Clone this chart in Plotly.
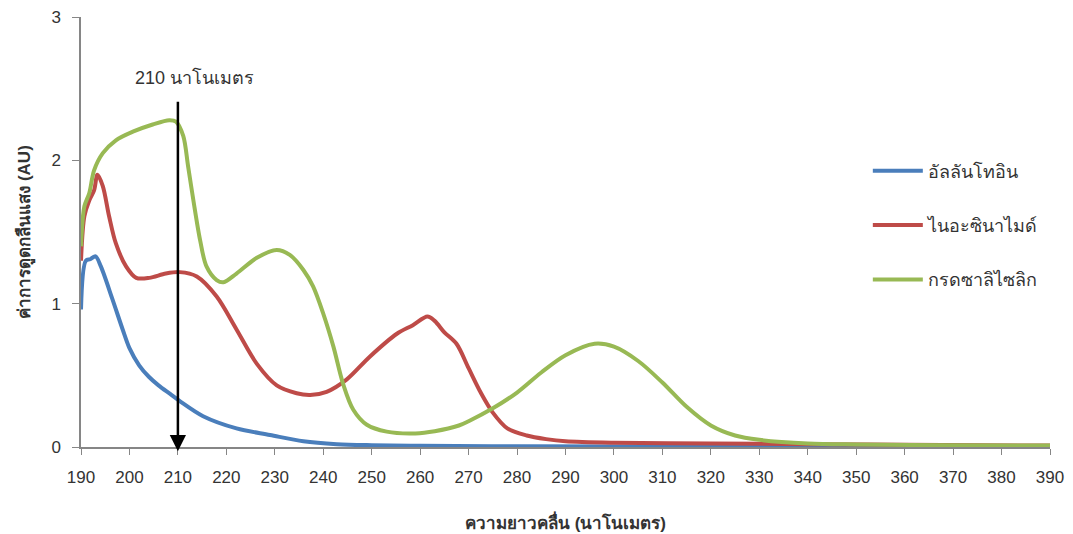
import plotly.graph_objects as go

# Allantoin (blue)
blue_x = [190, 191, 191.9, 193, 194.1, 196.5, 198.6, 200, 202, 204, 206, 208.4, 210.4, 215.2, 222.1, 229, 235.9, 242.8, 250, 260, 280, 320, 390]
blue_y = [0.96, 1.30, 1.31, 1.33, 1.26, 1.03, 0.82, 0.69, 0.57, 0.49, 0.43, 0.37, 0.32, 0.215, 0.13, 0.084, 0.04, 0.02, 0.013, 0.009, 0.005, 0.004, 0.003]

# Niacinamide (red)
red_x = [190, 190.7, 191.7, 192.7, 193.4, 194.5, 195.8, 197.2, 199.3, 201.4, 204.1, 207.5, 210.4, 213.9, 218, 222.1, 226.3, 230.4, 234.5, 237.3, 240.7, 244.8, 249.6, 255.2, 258.5, 261.5, 263, 265, 267.5, 270, 272.5, 275, 278, 282, 286, 290, 300, 320, 340, 360, 390]
red_y = [1.30, 1.61, 1.72, 1.79, 1.90, 1.82, 1.61, 1.42, 1.26, 1.18, 1.18, 1.21, 1.22, 1.19, 1.05, 0.82, 0.58, 0.43, 0.375, 0.363, 0.385, 0.47, 0.63, 0.79, 0.85, 0.91, 0.88, 0.80, 0.72, 0.55, 0.38, 0.24, 0.13, 0.08, 0.055, 0.04, 0.03, 0.025, 0.02, 0.015, 0.01]

# Salicylic acid (green)
green_x = [190, 190.7, 191.7, 192.7, 194.5, 197.2, 200.7, 204.8, 208.2, 209.6, 211.1, 212.1, 213.2, 214.6, 215.9, 218, 219.4, 222.1, 226.3, 230.4, 233.1, 235.9, 237.9, 240, 242.1, 244.1, 246.2, 249, 253.1, 259, 263, 268, 270, 275, 280, 285, 290, 296, 300, 305, 310, 315, 320, 325, 330, 340, 350, 370, 390]
green_y = [1.40, 1.68, 1.77, 1.93, 2.05, 2.14, 2.20, 2.25, 2.28, 2.27, 2.17, 1.96, 1.72, 1.44, 1.26, 1.165, 1.15, 1.21, 1.32, 1.375, 1.34, 1.235, 1.12, 0.93, 0.70, 0.44, 0.26, 0.155, 0.107, 0.095, 0.11, 0.15, 0.18, 0.27, 0.38, 0.52, 0.64, 0.72, 0.70, 0.60, 0.45, 0.28, 0.15, 0.08, 0.05, 0.025, 0.018, 0.012, 0.01]

names = ["อัลลันโทอิน", "ไนอะซินาไมด์", "กรดซาลิไซลิก"]
colors = ["#4a7ebb", "#be4b48", "#98b954"]
x_ticks = list(range(190, 391, 10))
y_ticks = [0, 1, 2, 3]
marker_wl = 210

FONT = "Liberation Sans, DejaVu Sans, sans-serif"
TXT = "#333333"

fig = go.Figure()
for i, (xs, ys) in enumerate([(blue_x, blue_y), (red_x, red_y), (green_x, green_y)]):
    fig.add_trace(go.Scatter(
        x=xs, y=ys, mode="lines", name=names[i], legendgroup=str(i),
        line=dict(color=colors[i], width=4, shape="spline", smoothing=0.9),
    ))

fig.add_annotation(
    x=marker_wl, y=-0.03, ax=marker_wl, ay=2.42, xref="x", yref="y", axref="x", ayref="y",
    text="", showarrow=True, arrowhead=2, arrowsize=1.3, arrowwidth=2.5, arrowcolor="black",
)
fig.add_annotation(
    x=213.5, y=2.58, xref="x", yref="y", text="210 นาโนเมตร", showarrow=False,
    font=dict(size=18, color=TXT, family=FONT),
)

fig.update_layout(
    width=1073, height=534,
    margin=dict(l=81, r=23, t=17, b=87),
    paper_bgcolor="white", plot_bgcolor="white",
    font=dict(family=FONT, size=16, color=TXT),
    legend=dict(
        x=0.812, y=0.685, xanchor="left", yanchor="top",
        font=dict(size=18), itemwidth=50, tracegroupgap=28,
        bgcolor="rgba(0,0,0,0)",
    ),
    xaxis=dict(
        range=[190, 390], tickvals=x_ticks, ticktext=[str(v) for v in x_ticks],
        showgrid=False, zeroline=False, showline=True, linecolor="#868686", linewidth=1.5,
        ticks="outside", ticklen=6, tickcolor="#868686", tickfont=dict(size=17),
        ticklabelstandoff=8, automargin=False,
        title=dict(text="<b>ความยาวคลื่น (นาโนเมตร)</b>", standoff=31, font=dict(size=17)),
    ),
    yaxis=dict(
        range=[0, 3], tickvals=y_ticks,
        showgrid=False, zeroline=False, showline=True, linecolor="#868686", linewidth=1.5,
        ticks="outside", ticklen=7, tickcolor="#868686", tickfont=dict(size=17),
        ticklabelstandoff=8, automargin=False,
        title=dict(text="<b>ค่าการดูดกลืนแสง (AU)</b>", standoff=16, font=dict(size=17)),
    ),
)

fig.write_html("out.html")
